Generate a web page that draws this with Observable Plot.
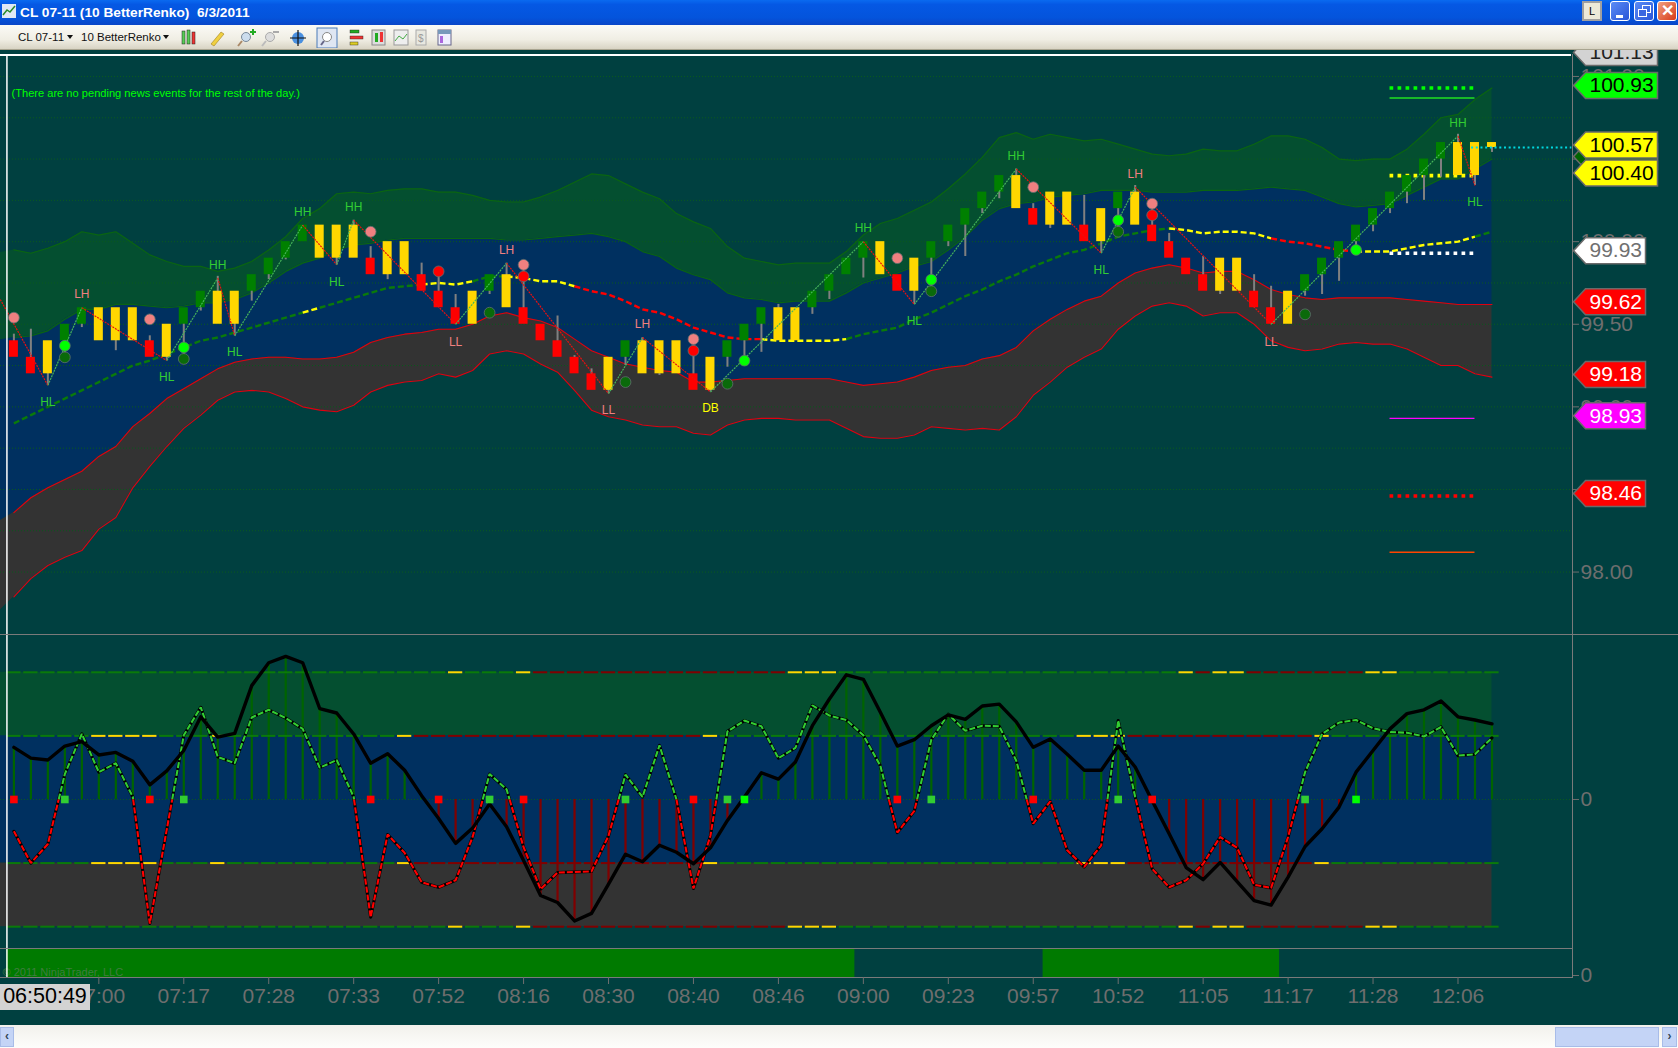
<!DOCTYPE html>
<html><head><meta charset="utf-8">
<script src="https://cdn.jsdelivr.net/npm/d3@7"></script>
<script src="https://cdn.jsdelivr.net/npm/@observablehq/plot@0.6"></script>
<style>
html,body{margin:0;padding:0;width:1678px;height:1048px;overflow:hidden;background:#004040;font-family:"Liberation Sans",Arial,sans-serif}
.abs{position:absolute}
#title{left:0;top:0;width:1678px;height:25px;background:linear-gradient(#0a6af0,#0558e4 18%,#0454dc 70%,#0a46c8);color:#fff;font:bold 13.7px "Liberation Sans";line-height:25px;white-space:pre}
#toolbar{left:0;top:25px;width:1678px;height:25px;background:linear-gradient(#fbfaf6,#f0eee4 60%,#d8d4c4);border-bottom:1px solid #a8a490;box-sizing:border-box;font:11.5px "Liberation Sans";color:#111}
.wb{top:1px;width:20px;height:20px;border:1px solid #fff;border-radius:3px;box-sizing:border-box;background:linear-gradient(135deg,#5a8cf5,#2a55d8);color:#fff;text-align:center;font:bold 13px/18px "Liberation Sans"}
</style></head>
<body>
<div id="title" class="abs"><span style="position:absolute;left:20px;top:0">CL 07-11 (10 BetterRenko)  6/3/2011</span>
<svg class="abs" style="left:2px;top:4px" width="14" height="14"><rect width="14" height="14" fill="#dfe8f5"/><path d="M1 11L5 6L8 8L13 2" stroke="#2a8a2a" fill="none" stroke-width="1.5"/></svg>
<div class="abs" style="left:1582px;top:1px;width:20px;height:20px;background:#ece9d8;border:2px solid #a0a0a0;box-sizing:border-box;color:#000;font:11px/16px 'Liberation Sans';text-align:center">L</div>
<div class="abs wb" style="left:1610px"><div style="position:absolute;left:5px;top:13px;width:7px;height:3px;background:#fff"></div></div>
<div class="abs wb" style="left:1634px"><div style="position:absolute;left:7px;top:3px;width:7px;height:6px;border:1px solid #fff"></div><div style="position:absolute;left:3px;top:7px;width:7px;height:6px;border:1px solid #fff;background:#3a66e0"></div></div>
<div class="abs wb" style="left:1657px;background:linear-gradient(135deg,#f0a080,#d83a18);font-size:16px">&#10005;</div>
</div>
<div id="toolbar" class="abs">
<span class="abs" style="left:18px;top:6px">CL 07-11</span><span class="abs" style="left:67px;top:10px;border:3px solid transparent;border-top:4px solid #111"></span>
<span class="abs" style="left:81px;top:6px">10 BetterRenko</span><span class="abs" style="left:163px;top:10px;border:3px solid transparent;border-top:4px solid #111"></span>
<svg class="abs" style="left:175px;top:2px" width="290" height="21">
<g stroke="#222" stroke-width=".5"><rect x="7" y="4" width="3" height="13" fill="#5c5"/><rect x="12" y="3" width="3" height="14" fill="#5c5"/><rect x="17" y="5" width="3" height="12" fill="#e33"/></g>
<path d="M36 17L46 5L49 7L39 19Z" fill="#f0d040" stroke="#a08020" stroke-width=".6"/>
<circle cx="71" cy="10" r="4.5" fill="#cde" stroke="#789"/><path d="M67 14L63 19" stroke="#a86" stroke-width="2"/><path d="M78 2v6M75 5h6" stroke="#2a2" stroke-width="2"/>
<circle cx="95" cy="10" r="4.5" fill="#ddd" stroke="#aaa"/><path d="M91 14L87 19" stroke="#bbb" stroke-width="2"/><path d="M98 5h6" stroke="#aaa" stroke-width="2"/>
<circle cx="123" cy="11" r="6" fill="#4a90e0"/><path d="M123 3v16M115 11h16" stroke="#111" stroke-width="1.2"/>
<rect x="142" y="1" width="20" height="20" fill="#dfe6f2" stroke="#4a7ab8"/><circle cx="152" cy="10" r="4.5" fill="#fff" stroke="#888"/><path d="M149 14L146 18" stroke="#668" stroke-width="2"/>
<g stroke="#222" stroke-width=".4"><rect x="175" y="3" width="9" height="3" fill="#2a2"/><rect x="175" y="9" width="13" height="3" fill="#e33"/><rect x="175" y="15" width="8" height="3" fill="#dc2"/></g>
<rect x="197" y="3" width="13" height="15" fill="#ddd" stroke="#888"/><rect x="200" y="6" width="3" height="9" fill="#2a2"/><rect x="205" y="5" width="3" height="10" fill="#e33"/>
<rect x="219" y="3" width="14" height="15" fill="#eee" stroke="#999"/><path d="M220 14L224 9L228 12L232 7" stroke="#4a4" fill="none"/>
<rect x="241" y="3" width="10" height="15" fill="#e8e8e0" stroke="#aaa"/><text x="243" y="15" font-size="10" fill="#999">$</text>
<rect x="263" y="3" width="13" height="15" fill="#eef" stroke="#668"/><rect x="263" y="3" width="13" height="4" fill="#79b"/><rect x="265" y="9" width="3" height="7" fill="#a6d"/>
</svg>
</div>
<div id="p1" class="abs" style="left:0;top:50px"></div>
<div id="p2" class="abs" style="left:0;top:634px"></div>
<div id="p3" class="abs" style="left:0;top:948px"></div>
<div class="abs" style="left:0;top:54px;width:1571px;height:1.5px;background:#fff"></div>
<div class="abs" style="left:0;top:634px;width:1678px;height:1px;background:#7a7a7a"></div>
<div class="abs" style="left:0;top:948px;width:1572px;height:1px;background:#7a7a7a"></div>
<div class="abs" style="left:0;top:984px;width:90px;height:26px;background:#d3d3d3;color:#000;font:21.5px/25px 'Liberation Sans';text-align:center">06:50:49</div>
<div class="abs" style="left:0;top:1025px;width:1678px;height:23px;background:linear-gradient(#f2f1ec,#fdfdfb)">
<div class="abs" style="left:0;top:2px;width:14px;height:20px;background:#c4d4f6;border:1px solid #a8bce8;box-sizing:border-box;color:#345;font:bold 12px/16px 'Liberation Sans';text-align:center">&#8249;</div>
<div class="abs" style="left:1555px;top:2px;width:104px;height:20px;background:#c4d4f6;border:1px solid #a8bce8;box-sizing:border-box"></div>
<div class="abs" style="left:1662px;top:2px;width:15px;height:20px;background:#c4d4f6;border:1px solid #a8bce8;box-sizing:border-box;color:#345;font:bold 12px/16px 'Liberation Sans';text-align:center">&#8250;</div>
</div>
<script>
// ---------- DATA ----------
const barType = "RRYGGYYYRY"+"GGYYGGGGYY"+"YRYYRRRYGY"+"RRRRRYGYYY"+"RYGGGYYGGG"+"GYRYGGGGGY"+"RYYRYGYRRR"+"RYYRRYGGGG"+"GGGGGYYY";
const bodyTop = [99.4,99.3,99.4,99.5,99.6,99.6,99.6,99.6,99.4,99.5,
99.6,99.7,99.7,99.7,99.8,99.9,100,100.1,100.1,100.1,
100.1,99.9,100,100,99.8,99.7,99.6,99.7,99.8,99.8,
99.6,99.5,99.4,99.3,99.2,99.3,99.4,99.4,99.4,99.4,
99.2,99.3,99.4,99.5,99.6,99.6,99.6,99.7,99.8,99.9,
100,100,99.8,99.9,100,100.1,100.2,100.3,100.4,100.4,
100.2,100.3,100.3,100.1,100.2,100.3,100.3,100.1,100,99.9,
99.8,99.9,99.9,99.7,99.6,99.7,99.8,99.9,100,100.1,
100.2,100.3,100.4,100.5,100.6,100.6,100.6,100.6];
const bodyBottom = [99.3,99.2,99.2,99.4,99.5,99.4,99.4,99.4,99.3,99.3,
99.5,99.6,99.5,99.5,99.7,99.8,99.9,100,99.9,99.9,
99.9,99.8,99.8,99.8,99.7,99.6,99.5,99.5,99.7,99.6,
99.5,99.4,99.3,99.2,99.1,99.1,99.3,99.2,99.2,99.2,
99.1,99.1,99.3,99.4,99.5,99.4,99.4,99.6,99.7,99.8,
99.9,99.8,99.7,99.7,99.9,100,100.1,100.2,100.3,100.2,
100.1,100.1,100.1,100,100,100.2,100.1,100,99.9,99.8,
99.7,99.7,99.7,99.6,99.5,99.5,99.7,99.8,99.9,100,
100.1,100.2,100.3,100.4,100.5,100.4,100.4,100.57];
const wickEnd = [99.44,99.47,99.13,99.30,99.48,null,99.34,null,99.43,99.28,
99.29,99.58,99.79,99.43,99.64,99.77,99.89,null,null,99.86,
100.13,99.97,99.77,null,99.87,99.82,99.68,null,99.68,99.87,
99.87,null,99.55,99.31,99.23,99.08,99.25,99.42,99.19,null,
99.42,99.09,99.24,99.28,99.33,99.62,null,99.56,99.65,null,
99.78,null,null,99.62,99.70,99.97,99.91,100.17,100.26,100.44,
100.23,100.08,null,100.28,99.93,100.06,100.34,100.23,100.05,null,
99.91,99.68,null,99.80,99.73,null,99.67,99.68,99.76,99.93,
100.06,100.17,100.23,100.25,100.39,100.65,100.34,100.54];
// bands: first value is the one just left of the first bar
const upperOuter = [99.93,99.95,99.93,99.96,100.00,100.06,100.04,100.06,99.99,99.92,99.88,
99.85,99.85,99.82,99.84,99.88,99.95,100.03,100.14,100.20,100.29,
100.30,100.29,100.31,100.32,100.32,100.30,100.30,100.28,100.25,100.24,
100.24,100.27,100.31,100.36,100.41,100.40,100.35,100.30,100.26,100.17,
100.12,100.08,99.97,99.90,99.88,99.86,99.87,99.87,99.87,99.94,
100.04,100.11,100.14,100.19,100.24,100.32,100.41,100.51,100.63,100.66,
100.62,100.65,100.63,100.61,100.62,100.59,100.56,100.53,100.52,100.53,
100.56,100.55,100.55,100.59,100.64,100.64,100.62,100.57,100.50,100.49,
100.50,100.50,100.56,100.65,100.75,100.77,100.86,100.93];
const upperInner = [99.40,99.42,99.43,99.46,99.53,99.59,99.59,99.62,99.62,99.61,99.60,
99.61,99.63,99.63,99.65,99.69,99.75,99.82,99.87,99.90,99.95,
99.98,99.99,100.01,100.02,100.02,100.02,100.02,100.02,100.02,100.01,
100.01,100.02,100.03,100.04,100.05,100.03,100.00,99.94,99.91,99.84,
99.80,99.77,99.69,99.66,99.65,99.63,99.64,99.64,99.64,99.69,
99.75,99.78,99.81,99.85,99.88,99.95,100.03,100.13,100.20,100.23,
100.24,100.27,100.28,100.29,100.31,100.31,100.31,100.30,100.30,100.30,
100.31,100.31,100.31,100.32,100.33,100.32,100.31,100.27,100.23,100.21,
100.22,100.23,100.28,100.33,100.38,100.38,100.44,100.50];
const lowerInner = [98.30,98.36,98.45,98.51,98.56,98.61,98.70,98.76,98.88,98.96,99.05,
99.11,99.17,99.23,99.27,99.29,99.30,99.30,99.29,99.29,99.30,
99.33,99.39,99.42,99.44,99.45,99.47,99.47,99.50,99.55,99.57,
99.54,99.52,99.48,99.41,99.34,99.30,99.26,99.24,99.22,99.21,
99.15,99.15,99.16,99.17,99.17,99.17,99.17,99.17,99.17,99.15,
99.13,99.14,99.15,99.18,99.22,99.24,99.25,99.29,99.31,99.36,
99.46,99.53,99.59,99.64,99.67,99.75,99.81,99.84,99.86,99.84,
99.81,99.82,99.82,99.77,99.71,99.68,99.66,99.65,99.66,99.66,
99.66,99.66,99.65,99.64,99.63,99.62,99.62,99.62];
const lowerOuter = [97.75,97.85,97.96,98.04,98.09,98.13,98.26,98.33,98.51,98.64,98.76,
98.87,98.95,99.04,99.09,99.10,99.09,99.05,99.00,98.98,98.97,
99.01,99.09,99.13,99.15,99.16,99.20,99.18,99.22,99.32,99.34,
99.32,99.26,99.21,99.10,98.98,98.94,98.92,98.89,98.88,98.88,
98.84,98.83,98.89,98.92,98.93,98.93,98.92,98.92,98.92,98.87,
98.82,98.81,98.81,98.83,98.88,98.87,98.86,98.87,98.86,98.94,
99.07,99.15,99.24,99.30,99.35,99.47,99.55,99.61,99.63,99.61,
99.55,99.57,99.57,99.50,99.40,99.36,99.34,99.35,99.38,99.39,
99.38,99.38,99.35,99.30,99.25,99.25,99.20,99.18];
const meanLine = [98.90,98.95,99.00,99.05,99.10,99.15,99.20,99.25,99.28,99.32,
99.36,99.40,99.42,99.45,99.48,99.51,99.54,99.57,99.60,99.63,
99.66,99.69,99.72,99.73,99.74,99.75,99.74,99.76,99.79,99.79,
99.78,99.76,99.76,99.73,99.70,99.68,99.64,99.59,99.57,99.53,
99.48,99.45,99.42,99.41,99.41,99.40,99.40,99.40,99.40,99.41,
99.44,99.46,99.48,99.53,99.57,99.62,99.67,99.71,99.76,99.80,
99.85,99.89,99.93,99.95,99.99,100.03,100.05,100.07,100.08,100.07,
100.05,100.06,100.06,100.05,100.02,100.00,99.99,99.97,99.95,99.94,
99.94,99.94,99.96,99.98,99.99,100.00,100.03,100.06];
const meanRuns = [[0,17,"g"],[17,18,"y"],[18,24,"g"],[24,27,"y"],[27,29,"g"],[29,33,"y"],[33,44,"r"],[44,49,"y"],[49,68,"g"],[68,74,"y"],[74,79,"r"],[79,86,"y"],[86,87,"g"]];
const pivots = [[-0.8,99.65],[2,99.13],[4,99.60],[9,99.28],[12,99.78],[13,99.43],[17,100.10],[19,99.86],[20,100.13],[26,99.50],[29,99.87],[35,99.08],[37,99.42],[41,99.09],[50,100.00],[53,99.62],[59,100.44],[64,99.93],[66,100.33],[74,99.50],[85,100.64],[86,100.34]];
const swingLabels = [["LH",4,99.68],["HL",2,99.03],["HL",9,99.18],["HH",12,99.86],["HL",13,99.33],["HH",17,100.18],["HH",20,100.21],["HL",19,99.755],["LL",26,99.39],["LH",29,99.95],["LH",37,99.50],["LL",35,98.98],["DB",41,98.99],["HH",50,100.08],["HL",53,99.52],["HH",59,100.52],["HL",64,99.83],["LH",66,100.41],["LL",74,99.39],["HL",86,100.24],["HH",85,100.72]];
const pinkDots = [[0,99.54],[8,99.53],[21,100.06],[30,99.86],[40,99.41],[52,99.90],[60,100.33],[67,100.23]];
const redDots = [[25,99.82],[30,99.79],[40,99.34],[67,100.16]];
const limeDots = [[3,99.37],[10,99.36],[43,99.28],[54,99.77],[65,100.13],[79,99.95]];
const darkDots = [[3,99.30],[10,99.29],[28,99.57],[36,99.15],[42,99.14],[54,99.70],[65,100.06],[76,99.56]];
const levels = [[100.93,"#00ff00",1],[100.87,"#20e020",0],[100.40,"#ffff00",1],[99.93,"#ffffff",1],[98.93,"#ff00ff",0],[98.46,"#ff0000",1],[98.12,"#ff4500",0]];
const priceTags = [[100.50,"#006400","#006400"],[101.13,"#d3d3d3","#222222"],[100.93,"#00ff00","#000000"],[100.57,"#ffff00","#000000"],[100.40,"#ffff00","#000000"],[99.93,"#ffffff","#707070"],[99.62,"#ff0000","#ffffff"],[99.18,"#ff0000","#ffffff"],[98.93,"#ff00ff","#ffffff"],[98.46,"#ff0000","#ffffff"]];
const lastPrice = 100.57;
const priceTicks = [98,98.5,99,99.5,100,100.5,101];
const gridPrices = d3.range(98,101.01,0.25);
const newsText = "(There are no pending news events for the rest of the day.)";

const slowOsc = [82,65,62,84,91,70,74,60,23,45,
77,130,98,104,179,215,225,215,143,136,
103,57,72,46,6,-30,-69,-45,-7,-43,
-96,-151,-162,-191,-179,-133,-86,-98,-72,-83,
-101,-76,-33,4,42,32,59,116,158,196,
189,137,84,94,116,133,126,147,150,122,
82,95,71,46,46,84,51,-2,-54,-107,
-126,-99,-129,-159,-166,-122,-74,-46,-12,43,
77,111,135,141,155,130,125,119];
const fastOsc = [-50,-100,-70,40,103,43,57,4,-195,-47,
101,145,67,57,129,141,128,111,50,62,
4,-185,-55,-84,-130,-138,-127,-59,40,16,
-75,-141,-115,-114,-113,-57,39,4,85,0,
-140,-57,107,124,115,65,81,148,132,125,
101,53,-52,-18,94,134,108,116,115,61,
-38,-3,-80,-106,-72,124,4,-109,-138,-127,
-101,-59,-76,-134,-139,-59,43,103,121,125,
112,106,105,99,114,69,71,97];
const oscLevels = [200,100,-100,-200];
const outerYellow = [26,30,46,47,48,69,71,72,80,81];
const outerRed = [[31,45],[70,70],[73,79]];
const innerYellow = [5,6,7,8,12,23,41,63,64,65,77];
const innerRed = [[24,40],[66,76]];
const redSquares = [0,8,21,25,30,40,52,60,67];
const greenSquares = [3,10,28,36,42,54,65,76];
const limeSquares = [43,79];
const trendRuns = [[0,49],[61,74]];
const tickBars = [5,10,15,20,25,30,35,40,45,50,55,60,65,70,75,80,85];
const tickTimes = ["07:00","07:17","07:28","07:33","07:52","08:16","08:30","08:40","08:46","09:00","09:23","09:57","10:52","11:05","11:17","11:28","12:06"];

// ---------- TABLES ----------
const colors = {R:"#ff0000",Y:"#ffd700",G:"#008000"};
const BG="#004040", BLUE="#003060", GRAY="#333333", GREENZ="#044f30", TXT="#6e6e6e", AX="#7a7a7a";
const bars = d3.range(88).map(i=>({i,type:colors[barType[i]],top:bodyTop[i],bot:bodyBottom[i],wick:wickEnd[i]}));
const bands = upperOuter.map((u,k)=>({i:k-1,u2:u,u1:upperInner[k],l1:lowerInner[k],l2:lowerOuter[k]}));
const bandLines = bands.filter(d=>d.i>=0);
const mean = meanLine.map((y,i)=>({i,y}));
const runColor={g:"#0a7a0a",y:"#ffff00",r:"#ff0000"};
const zig = pivots.slice(1).map((p,k)=>({x1:pivots[k][0],y1:pivots[k][1],x2:p[0],y2:p[1],c:p[1]<pivots[k][1]?"#e81010":"#46b45a"}));
const xOpt={domain:[-0.788,91.74],range:[0,1572]};
const wH=13, shoulder=12, tagLift=2.6;
const tagSym = w => ({draw(c){c.moveTo(0,-tagLift);c.lineTo(shoulder,-wH-tagLift);c.lineTo(w,-wH-tagLift);c.lineTo(w,wH-tagLift);c.lineTo(shoulder,wH-tagLift);c.closePath();}});
const tags = priceTags.map(([p,f,t])=>({p,f,t}));
const dots=(arr,fill)=>Plot.dot(arr,{x:d=>d[0],y:d=>d[1],r:5.4,fill,stroke:"#5f6f6f",strokeWidth:0.8});
const butt={strokeLinecap:"butt",strokeLinejoin:"miter"};

// ---------- PRICE PANEL ----------
const p1 = Plot.plot({
  width:1678,height:584,marginLeft:0,marginRight:106,marginTop:4,marginBottom:0,
  x:{...xOpt,axis:null},y:{domain:[97.625,101.136],range:[583.5,3.5],axis:null},
  color:{type:"identity"},
  style:{background:BG,fontFamily:"Liberation Sans, Arial, sans-serif",overflow:"hidden"},
  marks:[
    Plot.areaY(bands,{x:"i",y1:"u2",y2:"u1",fill:GREENZ,clip:true}),
    Plot.areaY(bands,{x:"i",y1:"u1",y2:"l1",fill:BLUE,clip:true}),
    Plot.areaY(bands,{x:"i",y1:"l1",y2:"l2",fill:GRAY,clip:true}),
    Plot.ruleY(gridPrices,{stroke:"#0a5a1c",strokeWidth:1,strokeDasharray:"1 2"}),
    Plot.line(bandLines,{x:"i",y:"u2",stroke:"#0a6412",strokeWidth:1.2}),
    Plot.line(bandLines,{x:"i",y:"u1",stroke:"#0a6412",strokeWidth:1.2}),
    Plot.line(bandLines,{x:"i",y:"l1",stroke:"#e00010",strokeWidth:1.1}),
    Plot.line(bandLines,{x:"i",y:"l2",stroke:"#e00010",strokeWidth:1.1}),
    ...meanRuns.map(([a,b,c])=>Plot.line(mean.slice(a,b+1),{x:"i",y:"y",stroke:runColor[c],strokeWidth:2.4,strokeDasharray:"6 3",...butt})),
    ...levels.map(([p,c,dotted])=>Plot.ruleY([p],{x1:81,x2:86,stroke:c,strokeWidth:dotted?3.6:1.4,strokeDasharray:dotted?"3.7 4.3":null})),
    Plot.ruleX(bars.filter(d=>d.wick!=null),{x:"i",y1:d=>(d.top+d.bot)/2,y2:"wick",stroke:"#808080",strokeWidth:2}),
    Plot.rect(bars,{x1:d=>d.i-0.265,x2:d=>d.i+0.265,y1:"bot",y2:"top",fill:"type"}),
    Plot.link(zig,{x1:"x1",y1:"y1",x2:"x2",y2:"y2",stroke:"c",strokeWidth:1.2,strokeDasharray:"2 1",clip:true}),
    dots(darkDots,"#0a6a0a"),dots(pinkDots,"#f08080"),dots(redDots,"#ff0000"),dots(limeDots,"#00ff00"),
    Plot.text(swingLabels,{x:d=>d[1],y:d=>d[2],text:d=>d[0],fontSize:12,fill:d=>d[0]=="DB"?"#ffff00":d[0]=="HH"||d[0]=="HL"?"#32cd32":"#f08080"}),
    Plot.ruleY([lastPrice],{x1:85.8,x2:91.7,stroke:"#00d8e0",strokeWidth:2,strokeDasharray:"2 2.7"}),
    Plot.text([newsText],{text:d=>d,frameAnchor:"top-left",dx:11,dy:35,textAnchor:"start",fontSize:11.1,fill:"#00ff00"}),
    Plot.ruleX([-0.41],{stroke:"#ffffff",strokeWidth:1.5}),
    Plot.frame({anchor:"right",stroke:AX}),
    Plot.axisY({anchor:"right",ticks:priceTicks,tickFormat:d=>d.toFixed(2),fontSize:21,color:TXT,tickSize:6,tickPadding:2,label:null}),
    Plot.dot(tags.filter(d=>d.p>=100),{y:"p",frameAnchor:"left",dx:1573,symbol:tagSym(84),fill:"f",stroke:"#6a6a6a"}),
    Plot.dot(tags.filter(d=>d.p<100),{y:"p",frameAnchor:"left",dx:1573,symbol:tagSym(72),fill:"f",stroke:"#6a6a6a"}),
    Plot.text(tags.filter(d=>d.f!="#006400"),{y:"p",frameAnchor:"left",dx:1589,dy:-tagLift,text:d=>d.p.toFixed(2),textAnchor:"start",fontSize:21,fill:"t"})
  ]
});
document.getElementById("p1").append(p1);

// ---------- OSCILLATOR PANEL ----------
const osc = slowOsc.map((v,i)=>({i,slow:v}));
const fastPts=[];
fastOsc.forEach((v,k)=>{fastPts.push({x:k,y:v});const n=fastOsc[k+1];if(n!==undefined&&v*n<0)fastPts.push({x:k+v/(v-n),y:0});});
const dashColor=(lvl,i)=>{
  const out=Math.abs(lvl)==200;
  const ye=out?outerYellow:innerYellow, re=out?outerRed:innerRed;
  if(ye.includes(i))return "#ffd700";
  if(re.some(([a,b])=>i>=a&&i<=b))return "#800000";
  return "#0a7a0a";
};
const dashes=oscLevels.flatMap(l=>d3.range(88).map(i=>({l,i,c:dashColor(l,i)})));
const zones=[[100,200,GREENZ],[-100,100,BLUE],[-200,-100,GRAY]];
const p2 = Plot.plot({
  width:1678,height:314,marginLeft:0,marginRight:106,marginTop:0,marginBottom:0,
  x:{...xOpt,axis:null},y:{domain:[-234.3,259.4],range:[314,0],axis:null},
  color:{type:"identity"},
  style:{background:BG,fontFamily:"Liberation Sans, Arial, sans-serif"},
  marks:[
    Plot.rect(zones,{x1:()=>-0.79,x2:()=>87,y1:d=>d[0],y2:d=>d[1],fill:d=>d[2]}),
    Plot.ruleY([0],{stroke:"#0a5a1c",strokeWidth:1,strokeDasharray:"1 2"}),
    Plot.ruleX(osc,{x:"i",y1:()=>0,y2:"slow",stroke:d=>d.slow>=0?"#006400":"#800000",strokeWidth:2.2}),
    Plot.ruleY(dashes,{y:"l",x1:d=>d.i-0.42,x2:d=>d.i+0.42,stroke:"c",strokeWidth:2}),
    Plot.line(fastPts,{x:"x",y:"y",stroke:"#000000",strokeWidth:3.1}),
    Plot.line(fastPts,{x:"x",y:d=>d.y>=0?d.y:NaN,stroke:"#32cd32",strokeWidth:2.1,strokeDasharray:"6 2",...butt}),
    Plot.line(fastPts,{x:"x",y:d=>d.y<=0?d.y:NaN,stroke:"#ff0000",strokeWidth:2.1,strokeDasharray:"6 2",...butt}),
    Plot.line(osc,{x:"i",y:"slow",stroke:"#000000",strokeWidth:3.4}),
    Plot.dot(redSquares,{x:d=>d,y:()=>0,symbol:"square",r:4.3,fill:"#ff0000"}),
    Plot.dot(greenSquares,{x:d=>d,y:()=>0,symbol:"square",r:4.3,fill:"#32cd32"}),
    Plot.dot(limeSquares,{x:d=>d,y:()=>0,symbol:"square",r:4.3,fill:"#00ff00"}),
    Plot.ruleX([-0.41],{stroke:"#ffffff",strokeWidth:1.5}),
    Plot.frame({anchor:"right",stroke:AX}),
    Plot.axisY({anchor:"right",ticks:[0],tickFormat:d=>String(d),fontSize:21,color:TXT,tickSize:6,tickPadding:2,label:null})
  ]
});
document.getElementById("p2").append(p2);

// ---------- TREND PANEL + TIME AXIS ----------
const p3 = Plot.plot({
  width:1678,height:77,marginLeft:0,marginRight:106,marginTop:0,marginBottom:48,
  x:{...xOpt,axis:null},y:{domain:[0,1],range:[29,0],axis:null},
  style:{background:BG,fontFamily:"Liberation Sans, Arial, sans-serif"},
  marks:[
    Plot.rect(trendRuns,{x1:d=>d[0]-0.42,x2:d=>d[1]+0.5,y1:()=>0,y2:()=>1,fill:"#007a00"}),
    Plot.text(["© 2011 NinjaTrader, LLC"],{text:d=>d,frameAnchor:"bottom-left",dx:2,dy:-2,textAnchor:"start",fontSize:11,fill:"#3f7d3f"}),
    Plot.ruleX([-0.41],{stroke:"#ffffff",strokeWidth:1.5}),
    Plot.frame({anchor:"right",stroke:AX}),
    Plot.axisY({anchor:"right",ticks:[0],tickFormat:d=>String(d),fontSize:21,color:TXT,tickSize:6,tickPadding:2,label:null,dy:-2}),
    Plot.ruleY([0],{stroke:AX,strokeWidth:1}),
    Plot.axisX({anchor:"bottom",ticks:tickBars,tickFormat:d=>tickTimes[tickBars.indexOf(d)],fontSize:21,color:TXT,tickSize:7,tickPadding:4,label:null})
  ]
});
document.getElementById("p3").append(p3);
</script>
</body></html>
